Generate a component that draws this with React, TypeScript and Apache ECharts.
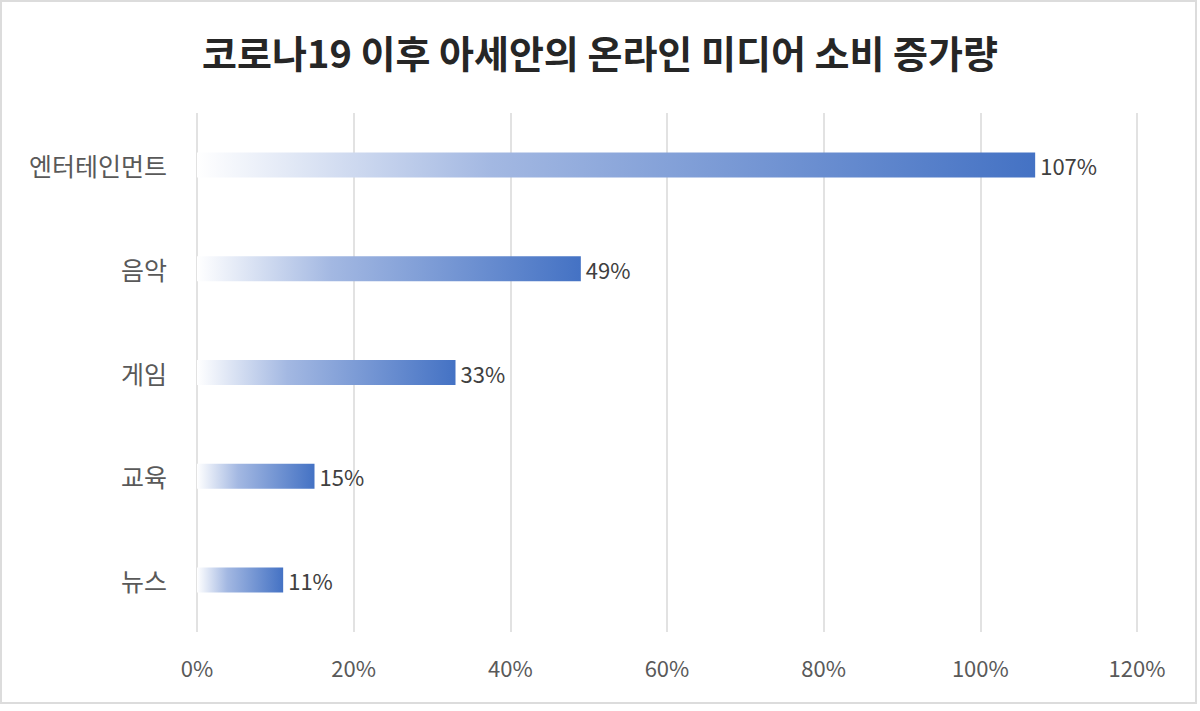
import React, { useEffect, useRef } from "react";
import * as echarts from "echarts";

const titleText = "코로나19 이후 아세안의 온라인 미디어 소비 증가량";
const categories = ["엔터테인먼트", "음악", "게임", "교육", "뉴스"];
const values = [107, 49, 33, 15, 11];
const axisMin = 0;
const axisMax = 120;
const axisStep = 20;

export default function App() {
  const ref = useRef<HTMLDivElement>(null);
  useEffect(() => {
    if (!ref.current) return;
    const chart = echarts.init(ref.current, null, { renderer: "svg" });
    const grad = new echarts.graphic.LinearGradient(0, 0, 1, 0, [
      { offset: 0, color: "#ffffff" },
      { offset: 0.35, color: "#a3b8e2" },
      { offset: 1, color: "#4472C4" },
    ]);
    chart.setOption({
      animation: false,
      backgroundColor: "#ffffff",
      title: {
        text: titleText,
        left: "center",
        top: 27,
        textStyle: {
          fontFamily: "Noto Sans CJK KR",
          fontWeight: "bold",
          fontSize: 38,
          color: "#262626",
        },
      },
      graphic: [
        {
          type: "rect",
          shape: { x: 1, y: 1, width: 1195, height: 702 },
          style: { fill: "none", stroke: "#dcdcdc", lineWidth: 2 },
          silent: true,
          z: 100,
        },
      ],
      grid: { left: 197, right: 63, top: 113, bottom: 79, containLabel: false },
      xAxis: {
        type: "value",
        min: axisMin,
        max: axisMax,
        interval: axisStep,
        axisLine: { show: false },
        axisTick: { show: false },
        splitLine: { show: true, lineStyle: { color: "#d9d9d9", width: 1.5 } },
        axisLabel: {
          formatter: (v: number) => v + "%",
          color: "#595959",
          fontSize: 22,
          fontFamily: "Noto Sans CJK KR",
          margin: 24,
        },
      },
      yAxis: {
        type: "category",
        data: categories,
        inverse: true,
        axisLine: { show: false },
        axisTick: { show: false },
        axisLabel: {
          color: "#595959",
          fontSize: 25,
          fontFamily: "Noto Sans CJK KR",
          margin: 30,
        },
      },
      series: [
        {
          type: "bar",
          data: values,
          barWidth: 25,
          itemStyle: { color: grad },
          label: {
            show: true,
            position: "right",
            distance: 5,
            formatter: (p: any) => p.value + "%",
            color: "#404040",
            fontSize: 22,
            fontFamily: "Noto Sans CJK KR",
          },
        },
      ],
    });
    return () => chart.dispose();
  }, []);
  return (
    <div
      ref={ref}
      style={{ position: "fixed", left: 0, top: 0, width: 1200, height: 711 }}
    />
  );
}
